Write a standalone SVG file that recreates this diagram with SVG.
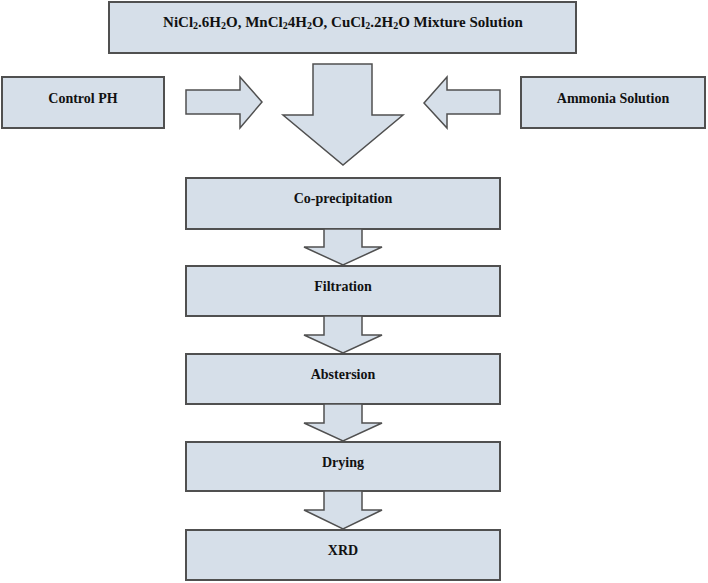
<svg xmlns="http://www.w3.org/2000/svg" width="708" height="583" viewBox="0 0 708 583">
<style>
.box{fill:#d6dfe9;stroke:#505050;stroke-width:2}
.arr{fill:#d6dfe9;stroke:#505050;stroke-width:1.5;stroke-linejoin:miter}
.t{font-family:"Liberation Serif","Times New Roman",serif;font-weight:bold;font-size:14px;fill:#111;text-anchor:middle}
.big{font-size:15px}
.s{font-size:10px}
</style>
<rect width="708" height="583" fill="#fff"/>
<g id="mixture">
<rect class="box" x="109" y="2" width="467" height="51"/>
<text class="t big" x="343" y="27">NiCl<tspan class="s" dy="2">2</tspan><tspan dy="-2">.6H</tspan><tspan class="s" dy="2">2</tspan><tspan dy="-2">O, MnCl</tspan><tspan class="s" dy="2">2</tspan><tspan dy="-2">4H</tspan><tspan class="s" dy="2">2</tspan><tspan dy="-2">O, CuCl</tspan><tspan class="s" dy="2">2</tspan><tspan dy="-2">.2H</tspan><tspan class="s" dy="2">2</tspan><tspan dy="-2">O Mixture Solution</tspan></text>
</g>
<g id="control-ph">
<rect class="box" x="2" y="77" width="162" height="51"/>
<text class="t" x="83" y="103">Control PH</text>
</g>
<g id="ammonia">
<rect class="box" x="521" y="77" width="184" height="51"/>
<text class="t" x="613" y="103">Ammonia Solution</text>
</g>
<g id="co-precipitation">
<rect class="box" x="186" y="178" width="314" height="51"/>
<text class="t" x="343" y="203">Co-precipitation</text>
</g>
<g id="filtration">
<rect class="box" x="186" y="266" width="314" height="50"/>
<text class="t" x="343" y="291">Filtration</text>
</g>
<g id="abstersion">
<rect class="box" x="186" y="354" width="314" height="50"/>
<text class="t" x="343" y="379">Abstersion</text>
</g>
<g id="drying">
<rect class="box" x="186" y="442" width="314" height="49"/>
<text class="t" x="343" y="467">Drying</text>
</g>
<g id="xrd">
<rect class="box" x="186" y="530" width="314" height="50"/>
<text class="t" x="343" y="555">XRD</text>
</g>
<g id="connectors">
<polygon class="arr" points="186,90 240,90 240,77 262,102 240,128 240,114 186,114"/>
<polygon class="arr" points="500,90 447,90 447,77 424,103 447,128 447,114 500,114"/>
<polygon class="arr" points="313,64 372,64 372,115 403,115 343,165 283,115 313,115"/>
<polygon class="arr" points="324,229 362,229 362,247 382,247 343,265 304,247 324,247"/>
<polygon class="arr" points="324,316 362,316 362,335 382,335 343,353 304,335 324,335"/>
<polygon class="arr" points="324,404 362,404 362,423 382,423 343,441 304,423 324,423"/>
<polygon class="arr" points="324,491 362,491 362,510 382,510 343,529 304,510 324,510"/>
</g>
</svg>
